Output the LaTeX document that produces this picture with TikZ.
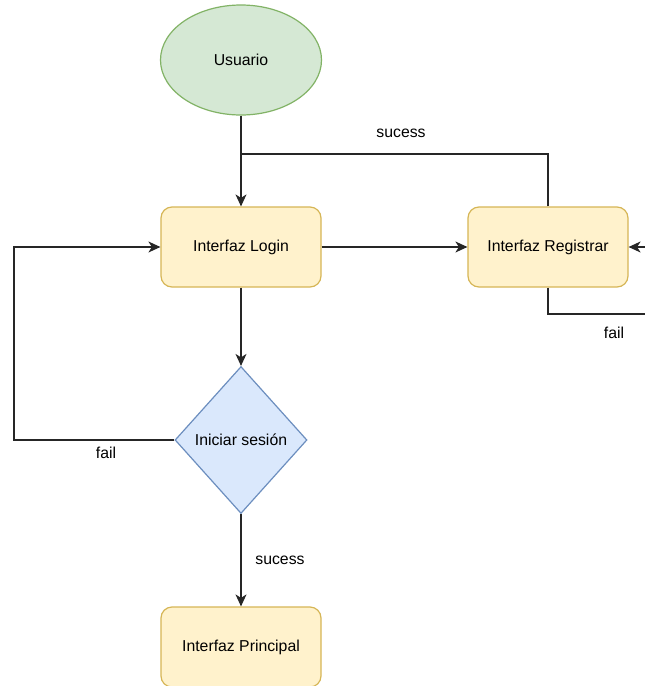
\documentclass[tikz,border=0pt]{standalone}
\usepackage{fontspec}
\setmainfont{Liberation Sans}
\usetikzlibrary{shapes.geometric,arrows.meta}
\definecolor{gfill}{HTML}{D5E8D4}\definecolor{gdraw}{HTML}{82B366}
\definecolor{yfill}{HTML}{FFF2CC}\definecolor{ydraw}{HTML}{D6B656}
\definecolor{bfill}{HTML}{DAE8FC}\definecolor{bdraw}{HTML}{6C8EBF}
\tikzset{
  txt/.style={font=\fontsize{15.8}{18}\selectfont},
  box/.style={txt,draw=ydraw,fill=yfill,rounded corners=11pt,minimum width=160pt,minimum height=80pt,line width=1.2pt,inner sep=0pt},
  startnode/.style={txt,ellipse,draw=gdraw,fill=gfill,minimum width=161pt,minimum height=110pt,line width=1.2pt,inner sep=0pt},
  decision/.style={txt,diamond,draw=bdraw,fill=bfill,minimum width=132pt,minimum height=147pt,line width=1.2pt,inner sep=0pt},
  conn/.style={draw=black!85,line width=1.3pt},
  arr/.style={conn,-{Stealth[length=12pt,width=11pt,inset=3.5pt]}},
  lbl/.style={txt,inner sep=0pt}
}
\begin{document}
\begin{tikzpicture}[x=1pt,y=-1pt]
\useasboundingbox (0,0) rectangle (645,686);
\clip (0,0) rectangle (645,686);
\fill[white] (0,0) rectangle (645,686);
\node[startnode] (usr) at (241,60) {Usuario};
\node[box] (login) at (241,247) {Interfaz Login};
\node[box] (reg) at (548,247) {Interfaz Registrar};
\node[decision] (ini) at (241,440) {Iniciar sesión};
\node[box] (prin) at (241,647) {Interfaz Principal};
\coordinate (rin) at (660,247);
\coordinate (rout) at (660,314);
\coordinate (lft) at (14,247);
\draw[arr] (usr) -- (login);
\draw[conn] (reg.north) |- (241,154);
\draw[arr] (login) -- (reg);
\draw[arr] (rin) -- (reg.east);
\draw[conn] (reg.south) |- (rout);
\draw[arr] (login) -- (ini);
\draw[arr] (ini.west) -| (lft) -- (login.west);
\draw[arr] (ini) -- (prin);
\node[lbl] (l1) at (401,133) {sucess};
\node[lbl] (l2) at (614,333) {fail};
\node[lbl] (l3) at (106,453) {fail};
\node[lbl] (l4) at (280,560) {sucess};
\end{tikzpicture}
\end{document}
